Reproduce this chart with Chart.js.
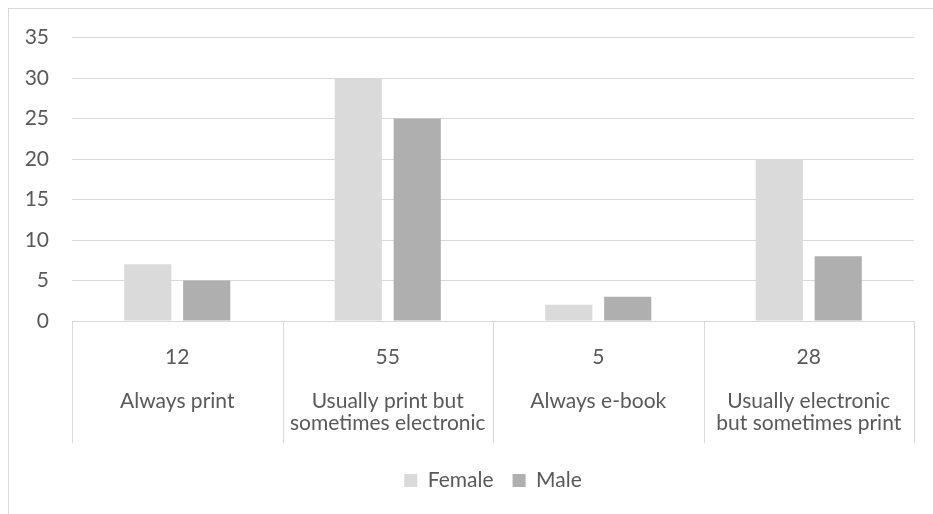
<!DOCTYPE html>
<html>
<head>
<meta charset="utf-8">
<script src="https://cdn.jsdelivr.net/npm/chart.js@4.4.1/dist/chart.umd.min.js"></script>
<style>
  body { margin: 0; background: #fff; }
  #frame {
    position: absolute;
    left: 8px;
    top: 8px;
    width: 925px;
    height: 506px;
    border-left: 1px solid #d9d9d9;
    border-top: 1px solid #d9d9d9;
  }
  #chart { position: absolute; left: 0; top: -7px; display: block; }
</style>
</head>
<body>
<div id="frame">
  <canvas id="chart" width="924" height="509"></canvas>
</div>
<script>
// categories (split in lines as in the source) and the group totals shown above them
const categories = [
    ['Always print'],
    ['Usually print but', 'sometimes electronic'],
    ['Always e-book'],
    ['Usually electronic', 'but sometimes print']
];
const totals = [12, 55, 5, 28];

const female = [7, 30, 2, 20];
const male = [5, 25, 3, 8];

const yTicks = [0, 5, 10, 15, 20, 25, 30, 35];

const textColor = '#595959';
const lineColor = '#d9d9d9';
const fontFamily = 'Lato, "Open Sans", sans-serif';

// vertical separators between categories, running down through the label area
const separators = {
    id: 'separators',
    afterDraw(chart) {
        const xs = chart.scales.x;
        const area = chart.chartArea;
        const ctx = chart.ctx;
        ctx.save();
        ctx.strokeStyle = lineColor;
        ctx.lineWidth = 1;
        for (let i = 0; i <= categories.length; i++) {
            const px = Math.round(xs.getPixelForValue(i - 0.5)) + 0.5;
            ctx.beginPath();
            ctx.moveTo(px, area.bottom);
            ctx.lineTo(px, area.bottom + 122);
            ctx.stroke();
        }
        ctx.restore();
    }
};

new Chart(document.getElementById('chart'), {
    type: 'bar',
    data: {
        labels: categories.map(c => c.join(' ')),
        datasets: [
            { label: 'Female', data: female, backgroundColor: '#dadada', categoryPercentage: 0.56, barPercentage: 0.8 },
            { label: 'Male', data: male, backgroundColor: '#afafaf', categoryPercentage: 0.56, barPercentage: 0.8 }
        ]
    },
    options: {
        responsive: false,
        animation: false,
        layout: { padding: { top: 17, right: 19, left: 9, bottom: 10 } },
        plugins: {
            tooltip: { enabled: false },
            legend: {
                position: 'bottom',
                fullSize: false,
                labels: {
                    color: textColor,
                    font: { family: fontFamily, size: 21 },
                    boxWidth: 13,
                    boxHeight: 13,
                    padding: 19
                }
            }
        },
        scales: {
            x: {
                grid: { display: false },
                border: { display: true, color: lineColor },
                ticks: {
                    color: textColor,
                    padding: 17,
                    maxRotation: 0,
                    autoSkip: false,
                    font: { family: fontFamily, size: 21, lineHeight: '22px' },
                    callback: (v, i) => [String(totals[i]), ''].concat(categories[i])
                }
            },
            y: {
                min: 0,
                max: 35,
                afterFit: (scale) => { scale.width = 54; },
                afterBuildTicks: (scale) => { scale.ticks = yTicks.map(v => ({ value: v })); },
                grid: { color: lineColor, drawTicks: false },
                border: { display: false },
                ticks: {
                    color: textColor,
                    padding: 23,
                    font: { family: fontFamily, size: 21 }
                }
            }
        }
    },
    plugins: [separators]
});
</script>
</body>
</html>
